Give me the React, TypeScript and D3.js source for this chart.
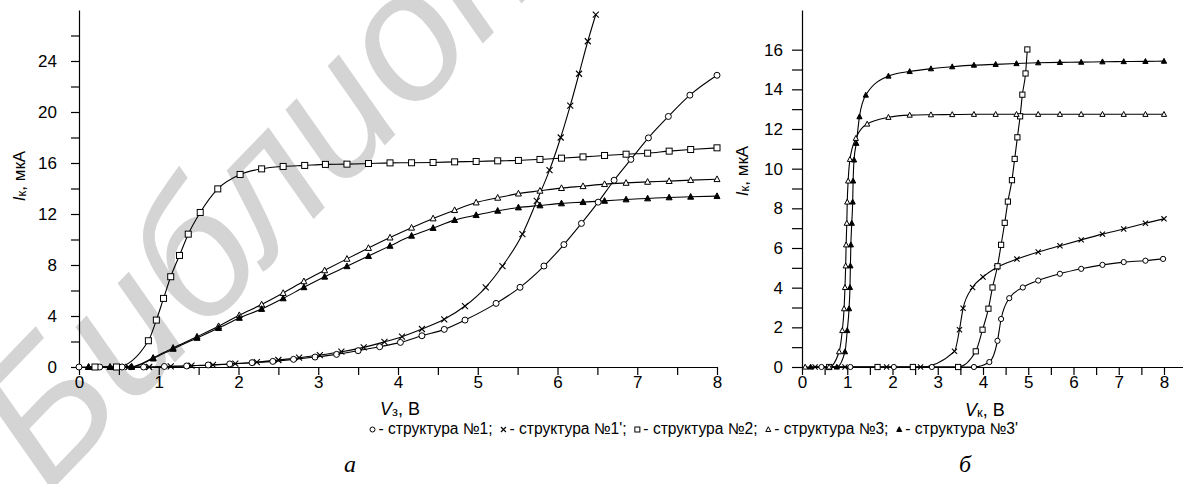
import React, { useEffect, useRef } from "react";
import * as d3 from "d3";

type Pt = [number, number];

// --- fig. а : Iк(Vз) ---
const gateS1: Pt[] = [[0,0],[0.26,0],[0.54,0],[0.81,0],[1.07,0.04],[1.35,0.08],[1.62,0.16],[1.89,0.24],[2.17,0.34],[2.43,0.44],[2.69,0.6],[2.96,0.78],[3.23,0.99],[3.5,1.28],[3.77,1.59],[4.03,1.93],[4.3,2.45],[4.58,2.95],[4.84,3.68],[5.23,4.99],[5.53,6.25],[5.83,7.92],[6.08,9.6],[6.3,11.26],[6.51,12.93],[6.71,14.65],[6.92,16.28],[7.14,17.97],[7.39,19.65],[7.66,21.32],[8.0,22.88]];
const gateS1p: Pt[] = [[0.62,0],[0.88,0],[1.15,0.05],[1.41,0.1],[1.68,0.16],[1.96,0.26],[2.23,0.38],[2.5,0.55],[2.76,0.73],[3.02,0.94],[3.29,1.2],[3.57,1.54],[3.83,1.97],[4.05,2.38],[4.3,2.98],[4.58,3.74],[4.84,4.78],[5.1,6.25],[5.31,7.92],[5.56,10.42],[5.74,13.03],[5.9,15.44],[6.04,18.0],[6.16,20.5],[6.27,23.0],[6.38,25.55],[6.48,27.64]];
const gateS2: Pt[] = [[0.2,0],[0.47,0],[0.87,2.06],[0.97,3.68],[1.06,5.38],[1.15,7.08],[1.26,8.75],[1.37,10.42],[1.52,12.12],[1.74,13.97],[2.02,15.1],[2.29,15.54],[2.56,15.73],[2.83,15.81],[3.09,15.89],[3.36,15.91],[3.63,15.96],[3.9,16.01],[4.17,16.02],[4.44,16.04],[4.71,16.09],[4.98,16.12],[5.25,16.17],[5.51,16.2],[5.78,16.28],[6.05,16.38],[6.32,16.48],[6.59,16.59],[6.86,16.69],[7.13,16.77],[7.4,16.93],[7.67,17.06],[8.0,17.19]];
const gateS3: Pt[] = [[0.12,0],[0.39,0],[0.66,0.03],[0.93,0.72],[1.18,1.5],[1.48,2.38],[1.75,3.2],[2.01,4.06],[2.29,4.9],[2.56,5.8],[2.82,6.72],[3.08,7.58],[3.36,8.48],[3.63,9.33],[3.9,10.15],[4.17,10.92],[4.44,11.65],[4.71,12.3],[4.98,12.9],[5.25,13.27],[5.51,13.6],[5.78,13.82],[6.05,14.03],[6.32,14.18],[6.59,14.34],[6.86,14.44],[7.13,14.52],[7.4,14.58],[7.67,14.66],[8.0,14.73]];
const gateS3p: Pt[] = [[0.12,0],[0.39,0],[0.66,0],[0.93,0.66],[1.18,1.42],[1.48,2.28],[1.75,3.05],[2.01,3.85],[2.29,4.55],[2.56,5.38],[2.82,6.25],[3.08,7.08],[3.36,7.9],[3.63,8.7],[3.9,9.5],[4.17,10.29],[4.44,10.9],[4.71,11.52],[4.98,11.91],[5.25,12.25],[5.51,12.51],[5.78,12.67],[6.05,12.83],[6.32,12.93],[6.59,13.03],[6.86,13.14],[7.13,13.22],[7.4,13.3],[7.67,13.35],[8.0,13.4]];

// --- fig. б : Iк(Vк) ---
const collS1: Pt[] = [[0.43,0],[1.07,0],[2.03,0],[2.87,0],[3.8,0],[4.14,0.25],[4.32,1.32],[4.4,2.42],[4.58,3.47],[4.88,4.01],[5.22,4.36],[5.7,4.7],[6.17,4.95],[6.64,5.15],[7.11,5.29],[7.59,5.36],[7.98,5.45]];
const collS1p: Pt[] = [[0.29,0],[0.95,0],[1.87,0],[2.62,0],[3.37,0.79],[3.48,1.88],[3.56,2.96],[3.77,4.01],[4.0,4.54],[4.3,5.02],[4.75,5.44],[5.22,5.8],[5.7,6.11],[6.17,6.41],[6.64,6.7],[7.11,6.96],[7.59,7.25],[8.0,7.47]];
const collS2: Pt[] = [[0.6,0],[1.67,0],[2.45,0],[3.45,0],[3.84,0.79],[3.99,1.88],[4.12,2.94],[4.21,4.01],[4.32,5.08],[4.4,6.16],[4.48,7.27],[4.55,8.34],[4.64,9.42],[4.7,10.49],[4.76,11.58],[4.82,12.64],[4.87,13.73],[4.94,14.8],[4.98,16.01]];
const collS3: Pt[] = [[0.07,0],[0.6,0],[0.82,0.77],[0.89,1.84],[0.93,2.94],[0.95,4.01],[0.965,5.1],[0.975,6.16],[0.99,7.25],[1.0,8.32],[1.02,9.38],[1.06,10.47],[1.19,11.53],[1.44,12.25],[1.91,12.59],[2.38,12.7],[2.85,12.72],[3.32,12.73],[3.8,12.74],[4.28,12.74],[4.74,12.74],[5.22,12.74],[5.7,12.74],[6.17,12.74],[6.64,12.74],[7.11,12.74],[7.59,12.74],[8.0,12.74]];
const collS3p: Pt[] = [[0.19,0],[0.77,0],[0.95,0.77],[1.0,1.84],[1.04,2.94],[1.06,4.01],[1.07,5.1],[1.08,6.16],[1.1,7.25],[1.12,8.32],[1.13,9.38],[1.15,10.44],[1.2,11.28],[1.27,12.62],[1.41,13.71],[1.91,14.67],[2.38,14.9],[2.85,15.04],[3.32,15.14],[3.8,15.22],[4.28,15.26],[4.74,15.3],[5.22,15.34],[5.7,15.36],[6.17,15.37],[6.64,15.39],[7.11,15.4],[7.59,15.41],[8.0,15.42]];

const gateYTicks = d3.range(0, 27, 2);
const collYTicks = d3.range(0, 17, 1);
const xTicks = d3.range(0, 8.01, 0.5);

const legendItems = [
  { kind: "circle", label: "- структура №1;" },
  { kind: "cross", label: "- структура №1';" },
  { kind: "square", label: "- структура №2;" },
  { kind: "tri", label: "- структура №3;" },
  { kind: "triFill", label: "- структура №3'" },
];

const FONT = "'Liberation Sans', Arial, sans-serif";

const drawMarker = (g, kind, x, y, s) => {
  const h = s / 2;
  if (kind === "circle") {
    g.append("circle").attr("cx", x).attr("cy", y).attr("r", h).attr("fill", "#fff").attr("stroke", "#000").attr("stroke-width", 1);
  } else if (kind === "cross") {
    g.append("path")
      .attr("d", `M${x - h},${y - h}L${x + h},${y + h}M${x - h},${y + h}L${x + h},${y - h}`)
      .attr("stroke", "#000").attr("stroke-width", 1.1);
  } else if (kind === "square") {
    g.append("rect").attr("x", x - h).attr("y", y - h).attr("width", s).attr("height", s)
      .attr("fill", "#fff").attr("stroke", "#000").attr("stroke-width", 1);
  } else {
    g.append("path")
      .attr("d", `M${x},${y - h * 1.1}L${x + h},${y + h * 0.8}L${x - h},${y + h * 0.8}Z`)
      .attr("fill", kind === "triFill" ? "#000" : "#fff").attr("stroke", "#000").attr("stroke-width", 1);
  }
};

const App = () => {
  const ref = useRef<SVGSVGElement>(null);

  useEffect(() => {
    const svg = d3.select(ref.current);
    svg.selectAll("*").remove();

    // watermark
    svg.append("text")
      .attr("transform", "translate(48,494) rotate(-46)")
      .attr("font-family", FONT)
      .attr("font-style", "italic")
      .attr("font-size", 182)
      .attr("fill", "#d4d4d4")
      .text("Библиотека БГУИР");

    const drawPanel = (cfg) => {
      const { x, y, series, yTicks, yLabelEvery, yTickLen, yPad, markerSize } = cfg;
      const g = svg.append("g");

      const ax = g.append("g").attr("transform", `translate(0,${y(0)})`)
        .call(d3.axisBottom(x).tickValues(xTicks).tickSize(8).tickSizeOuter(0).tickPadding(1)
          .tickFormat((d) => (Number.isInteger(+d) ? String(d) : "")));
      const ay = g.append("g").attr("transform", `translate(${x(0)},0)`)
        .call(d3.axisLeft(y).tickValues(yTicks).tickSize(yTickLen).tickSizeOuter(0).tickPadding(yPad)
          .tickFormat((d) => (+d % yLabelEvery === 0 ? String(d) : "")));
      [ax, ay].forEach((a) => {
        a.attr("font-family", FONT).attr("font-size", 17);
        a.selectAll("text").attr("fill", "#000");
        a.selectAll("line,path").attr("stroke", "#000").attr("stroke-width", 1.2);
      });

      const line = d3.line<Pt>().x((d) => x(d[0])).y((d) => y(d[1])).curve(d3.curveMonotoneX);
      series.forEach((s) => {
        g.append("path").attr("d", line(s.data)).attr("fill", "none").attr("stroke", "#000").attr("stroke-width", 1.1);
      });
      series.forEach((s) => {
        s.data.forEach((d) => drawMarker(g, s.kind, x(d[0]), y(d[1]), markerSize));
      });
    };

    drawPanel({
      x: d3.scaleLinear().domain([0, 8]).range([79, 717]),
      y: d3.scaleLinear().domain([0, 28]).range([367, 10]),
      yTicks: gateYTicks, yLabelEvery: 4, yTickLen: 8, yPad: 14, markerSize: 6,
      series: [
        { data: gateS1, kind: "circle" },
        { data: gateS1p, kind: "cross" },
        { data: gateS2, kind: "square" },
        { data: gateS3, kind: "tri" },
        { data: gateS3p, kind: "triFill" },
      ],
    });
    drawPanel({
      x: d3.scaleLinear().domain([0, 8.42]).range([802, 1183]),
      y: d3.scaleLinear().domain([0, 18]).range([367, 10]),
      yTicks: collYTicks, yLabelEvery: 2, yTickLen: 10, yPad: 9, markerSize: 5.2,
      series: [
        { data: collS1, kind: "circle" },
        { data: collS1p, kind: "cross" },
        { data: collS2, kind: "square" },
        { data: collS3, kind: "tri" },
        { data: collS3p, kind: "triFill" },
      ],
    });

    // axis titles
    const xTitle = (x0, yb, sub) => {
      const t = svg.append("text").attr("x", x0).attr("y", yb).attr("font-family", FONT).attr("font-size", 18);
      t.append("tspan").attr("font-style", "italic").text("V");
      t.append("tspan").attr("font-size", 13).attr("dy", 1).text(sub);
      t.append("tspan").attr("dy", -1).text(", В");
    };
    xTitle(380, 415, "з");
    xTitle(965, 416, "к");

    const yTitle = (xb, yc) => {
      const t = svg.append("text").attr("transform", `translate(${xb},${yc}) rotate(-90)`)
        .attr("text-anchor", "middle").attr("font-family", FONT).attr("font-size", 17);
      t.append("tspan").attr("font-style", "italic").text("I");
      t.append("tspan").attr("font-size", 13).attr("dy", 1).text("к");
      t.append("tspan").attr("dy", -1).text(", мкА");
    };
    yTitle(25, 176);
    yTitle(748, 171);

    // legend
    const lg = svg.append("g");
    const legendY = 434, start = 372.5, end = 1018, mW = 5, afterMarker = 6, beforeMarker = 7;
    const texts = legendItems.map((it) =>
      lg.append("text").attr("y", legendY).attr("font-family", FONT).attr("font-size", 15.6).attr("fill", "#000").text(it.label)
    );
    const widths = texts.map((t) => (t.node() as SVGTextElement).getComputedTextLength());
    const natural = d3.sum(widths) + legendItems.length * afterMarker + (legendItems.length - 1) * beforeMarker;
    const extra = Math.max(0, (end - start - natural) / (legendItems.length - 1));
    let cx = start;
    legendItems.forEach((it, i) => {
      drawMarker(lg, it.kind, cx, legendY - 4.5, mW);
      texts[i].attr("x", cx + afterMarker);
      cx += afterMarker + widths[i] + beforeMarker + extra;
    });

    // panel letters
    [["а", 350], ["б", 965]].forEach(([s, xc]) => {
      svg.append("text").attr("x", xc).attr("y", 472).attr("text-anchor", "middle")
        .attr("font-family", "'Liberation Serif', 'Times New Roman', serif").attr("font-style", "italic")
        .attr("font-size", 24).text(s);
    });
  }, []);

  return (
    <svg ref={ref} width={1183} height={484}
      style={{ position: "absolute", left: 0, top: 0, background: "#fff" }} />
  );
};

export default App;
